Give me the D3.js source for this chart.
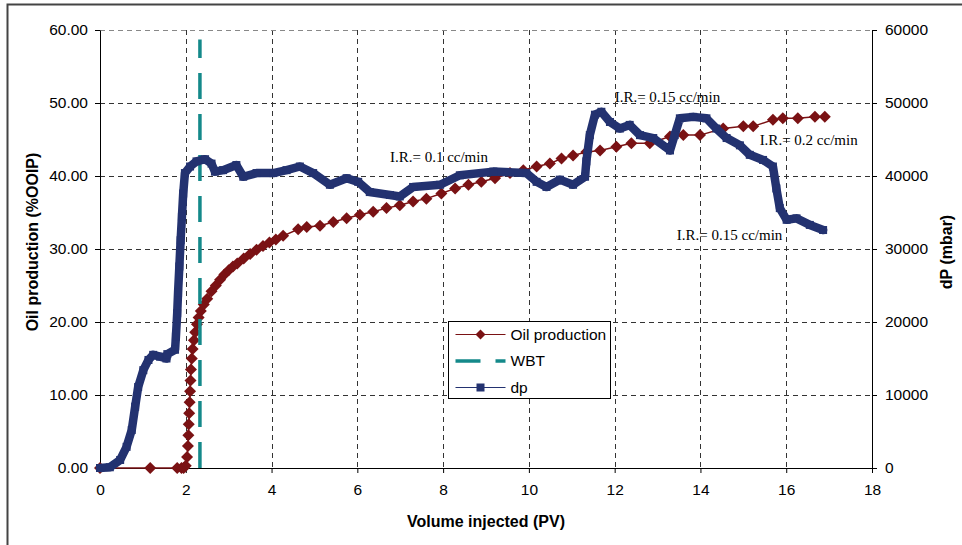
<!DOCTYPE html>
<html>
<head>
<meta charset="utf-8">
<script src="https://cdn.jsdelivr.net/npm/d3@7"></script>
<style>
  body { margin: 0; background: #fff; }
  svg { display: block; font-family: Arial, "Liberation Sans", sans-serif; }
</style>
</head>
<body>
<script>
// oil production (%OOIP) vs volume injected (PV)
var oilX = [0, 1.17, 1.80, 1.90, 1.95, 2.00, 2.03, 2.05, 2.06, 2.07, 2.08, 2.09, 2.10, 2.11, 2.12, 2.14,
  2.16, 2.19, 2.22, 2.26, 2.30, 2.35, 2.42, 2.50, 2.60, 2.70, 2.80, 2.90, 3.00, 3.10, 3.20, 3.35,
  3.50, 3.65, 3.80, 3.95, 4.10, 4.27, 4.62, 4.82, 5.13, 5.44, 5.75, 6.06, 6.37, 6.68, 6.99, 7.30,
  7.61, 7.96, 8.28, 8.59, 8.89, 9.21, 9.56, 9.87, 10.18, 10.49, 10.76, 11.03, 11.34, 11.66, 12.04,
  12.39, 12.82, 13.29, 13.60, 13.99, 14.53, 15.00, 15.23, 15.69, 15.92, 16.27, 16.67, 16.90]
var oilY = [0, 0, 0, 0, 0, 0.3, 1.5, 3.0, 4.5, 6.0, 7.5, 9.0, 10.5, 12.0, 13.5, 15.0,
  16.3, 17.5, 18.6, 19.7, 20.6, 21.5, 22.4, 23.2, 24.2, 25.0, 25.8, 26.5, 27.1, 27.6, 28.0, 28.7,
  29.3, 29.9, 30.4, 30.9, 31.3, 31.8, 32.7, 33.0, 33.2, 33.7, 34.2, 34.7, 35.1, 35.6, 36.0, 36.5,
  36.9, 37.6, 38.3, 38.8, 39.2, 39.7, 40.4, 40.8, 41.3, 41.7, 42.4, 42.8, 43.3, 43.5, 44.0,
  44.5, 44.5, 45.4, 45.6, 45.6, 46.5, 46.8, 46.8, 47.7, 47.9, 47.9, 48.1, 48.1]

// differential pressure (mbar)
var dpX = [0, 0.23, 0.47, 0.62, 0.74, 0.82, 0.89, 1.01, 1.13, 1.24, 1.40, 1.55, 1.57, 1.75, 1.77, 1.80,
  1.82, 1.85, 1.88, 1.91, 1.94, 1.98, 2.10, 2.25, 2.45, 2.60, 2.68, 2.87, 3.18, 3.34, 3.65, 4.04,
  4.35, 4.66, 4.97, 5.36, 5.75, 6.02, 6.29, 6.76, 6.99, 7.30, 7.93, 8.39, 9.17, 9.94, 10.18, 10.41,
  10.72, 11.03, 11.31, 11.34, 11.42, 11.54, 11.69, 11.89, 12.12, 12.35, 12.59, 12.90, 13.29, 13.40,
  13.52, 13.83, 14.14, 14.37, 14.61, 14.92, 15.15, 15.46, 15.69, 15.77, 15.85, 16.01, 16.24, 16.55, 16.86]
var dpY = [0, 100, 1100, 2900, 5200, 8400, 11100, 13400, 14800, 15500, 15250, 15000, 15600, 16200, 18000, 21200,
  24000, 27600, 31200, 34400, 37600, 40400, 41300, 42000, 42300, 41700, 40600, 40800, 41500, 39900, 40400, 40400,
  40800, 41300, 40400, 38800, 39700, 39200, 37800, 37400, 37200, 38500, 38800, 40100, 40600, 40400, 39200, 38500,
  39500, 38800, 39900, 42000, 45600, 48400, 48800, 47400, 46500, 47000, 45600, 45200, 43500, 45600,
  47900, 48100, 47900, 46500, 45200, 44200, 42900, 42200, 41300, 38300, 35600, 34000, 34200, 33300, 32600]

// water breakthrough marker
var wbtX = [2.33, 2.33]
var wbtY = [0, 58.7]

var xTicks = [0, 2, 4, 6, 8, 10, 12, 14, 16, 18]
var yLeftTicks = [0, 10, 20, 30, 40, 50, 60]
var yRightTicks = [0, 10000, 20000, 30000, 40000, 50000, 60000]

var notes = [
  {text: "I.R.= 0.1 cc/min", x: 6.76, y: 41.9},
  {text: "I.R.= 0.15 cc/min", x: 12.0, y: 50.1},
  {text: "I.R.= 0.2 cc/min", x: 15.38, y: 44.3},
  {text: "I.R.= 0.15 cc/min", x: 13.45, y: 31.3}
]

var series = ["Oil production", "WBT", "dp"]
var oilColor = "#7a1214", dpColor = "#233270", wbtColor = "#14898a"

var width = 962, height = 545
var margin = {top: 30, right: 90, bottom: 77, left: 100}

var svg = d3.select("body").append("svg")
  .attr("width", width)
  .attr("height", height)

// outer frame (left and top edges visible)
svg.append("path")
  .attr("d", "M7.5,545V4.5H962")
  .attr("fill", "none")
  .attr("stroke", "#444")
  .attr("stroke-width", 2)

var x = d3.scaleLinear().domain([0, 18]).range([margin.left, width - margin.right])
var yL = d3.scaleLinear().domain([0, 60]).range([height - margin.bottom, margin.top])
var yR = d3.scaleLinear().domain([0, 60000]).range([height - margin.bottom, margin.top])

// gridlines
var grid = svg.append("g").attr("stroke", "#333").attr("stroke-dasharray", "5,4").attr("stroke-width", 1)
grid.selectAll(".vg").data(xTicks.slice(1, -1)).enter().append("line")
  .attr("x1", d => Math.round(x(d)) + 0.5).attr("x2", d => Math.round(x(d)) + 0.5)
  .attr("y1", yL(60)).attr("y2", yL(0))
grid.selectAll(".hg").data(yLeftTicks.slice(1)).enter().append("line")
  .attr("x1", x(0)).attr("x2", x(18))
  .attr("y1", d => Math.round(yL(d)) + 0.5).attr("y2", d => Math.round(yL(d)) + 0.5)
  .attr("stroke", d => d == 60 ? "#888" : null)

// axes
svg.append("g")
  .attr("transform", `translate(0,${yL(0)})`)
  .call(d3.axisBottom(x).tickValues(xTicks).tickSize(5).tickSizeOuter(0).tickPadding(11))
svg.append("g")
  .attr("transform", `translate(${x(0)},0)`)
  .call(d3.axisLeft(yL).tickValues(yLeftTicks).tickFormat(d3.format(".2f")).tickSize(5).tickSizeOuter(0).tickPadding(7))
svg.append("g")
  .attr("transform", `translate(${x(18)},0)`)
  .call(d3.axisRight(yR).tickValues(yRightTicks).tickFormat(d3.format("d")).tickSize(5).tickSizeOuter(0).tickPadding(8))

svg.selectAll(".tick text").style("font-size", "15.5px").attr("fill", "#000").style("font-family", "Arial, 'Liberation Sans', sans-serif")
svg.selectAll(".domain, .tick line").attr("stroke", "#000")

// axis titles
svg.append("text")
  .attr("x", 486).attr("y", 527)
  .attr("text-anchor", "middle").style("font-weight", "bold").style("font-size", "16px")
  .text("Volume injected (PV)")
svg.append("text")
  .attr("transform", "translate(38,242) rotate(-90)")
  .attr("text-anchor", "middle").style("font-weight", "bold").style("font-size", "16px")
  .text("Oil production (%OOIP)")
svg.append("text")
  .attr("transform", "translate(952,252) rotate(-90)")
  .attr("text-anchor", "middle").style("font-weight", "bold").style("font-size", "16px")
  .text("dP (mbar)")

var diamond = "M0,-6L6,0L0,6L-6,0Z"

// oil production
var oilData = oilX.map((d, i) => ({x: d, y: oilY[i]}))
svg.append("path")
  .datum(oilData)
  .attr("fill", "none").attr("stroke", oilColor).attr("stroke-width", 1.5)
  .attr("d", d3.line().x(d => x(d.x)).y(d => yL(d.y)))
svg.append("g").selectAll("path").data(oilData).enter().append("path")
  .attr("d", diamond).attr("fill", oilColor)
  .attr("transform", d => `translate(${x(d.x)},${yL(d.y)})`)

// WBT
svg.append("line")
  .attr("x1", x(wbtX[0])).attr("x2", x(wbtX[1]))
  .attr("y1", yL(wbtY[0])).attr("y2", yL(wbtY[1]))
  .attr("stroke", wbtColor).attr("stroke-width", 3.5)
  .attr("stroke-dasharray", "26,15")

// dp
var dpData = dpX.map((d, i) => ({x: d, y: dpY[i]}))
svg.append("path")
  .datum(dpData)
  .attr("fill", "none").attr("stroke", dpColor).attr("stroke-width", 8.5)
  .attr("stroke-linejoin", "round").attr("stroke-linecap", "round")
  .attr("d", d3.line().x(d => x(d.x)).y(d => yR(d.y)))
svg.append("g").selectAll("rect").data(dpData).enter().append("rect")
  .attr("x", d => x(d.x) - 4).attr("y", d => yR(d.y) - 4)
  .attr("width", 8).attr("height", 8).attr("fill", dpColor)

// annotations
svg.append("g").selectAll("text").data(notes).enter().append("text")
  .attr("x", d => x(d.x)).attr("y", d => yL(d.y))
  .style("font-family", "'Liberation Serif', 'Times New Roman', serif")
  .style("font-size", "15px")
  .text(d => d.text)

// legend
var lg = svg.append("g").attr("transform", "translate(448.5,321.5)")
lg.append("rect").attr("width", 162).attr("height", 77).attr("fill", "#fff").attr("stroke", "#000")
var row = lg.selectAll(".legend").data(series).enter().append("g")
  .attr("transform", (d, i) => `translate(0,${13 + i * 26.5})`)
row.append("line")
  .attr("x1", 7).attr("x2", 57).attr("y1", 0).attr("y2", 0)
  .attr("stroke", (d, i) => [oilColor, wbtColor, dpColor][i])
  .attr("stroke-width", (d, i) => i == 1 ? 3.5 : 1.2)
  .attr("stroke-dasharray", (d, i) => i == 1 ? "25,15" : null)
row.filter((d, i) => i == 0).append("path").attr("d", "M0,-5L5,0L0,5L-5,0Z")
  .attr("transform", "translate(32,0)").attr("fill", oilColor)
row.filter((d, i) => i == 2).append("rect")
  .attr("x", 28).attr("y", -4).attr("width", 8).attr("height", 8).attr("fill", dpColor)
row.append("text")
  .attr("x", 62).attr("dy", "0.35em")
  .style("font-size", "15.5px")
  .text(d => d)
</script>
</body>
</html>
